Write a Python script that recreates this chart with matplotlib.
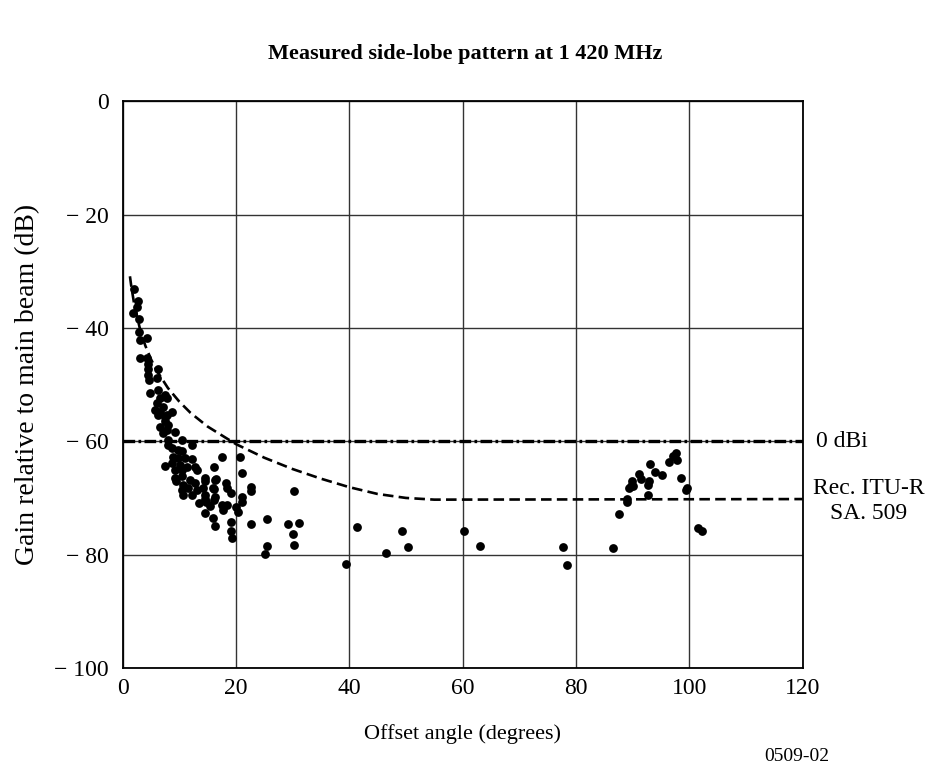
# Measured side-lobe pattern at 1 420 MHz, with the Rec. ITU-R SA.509 reference curve.
import matplotlib
matplotlib.use("Agg")
import matplotlib.pyplot as plt

# measured points: offset angle (degrees) and gain relative to main beam (dB)
meas_angle = [
    2.0, 2.8, 2.5, 1.9, 2.9, 2.9, 3.1, 4.3, 3.1, 4.3, 4.4, 4.5, 4.5, 4.6, 6.2, 6.0,
    4.8, 6.3, 6.6, 7.5, 7.8, 6.0, 7.2, 6.6, 5.7, 8.7, 7.5, 6.3, 7.8, 6.6, 8.1, 7.5,
    7.8, 7.2, 9.2, 8.1, 10.4, 12.2, 8.1, 8.7, 9.8, 10.4, 8.9, 9.8, 11.0, 12.2,
    7.5, 8.7, 10.1, 11.3, 12.8, 13.1, 9.2, 10.4, 9.2, 10.4, 11.9, 14.5, 9.5, 10.7,
    12.8, 14.5, 16.3, 10.4, 11.6, 13.1, 14.2, 16.0, 14.5, 16.3, 10.7, 12.2, 13.4,
    14.8, 15.4, 14.5, 16.0, 16.3, 14.5, 16.1, 17.5, 18.5, 17.8, 20.1, 19.1, 19.2,
    19.3, 17.5, 20.7, 16.1, 21.1, 16.4, 18.2, 16.1, 18.4, 19.1, 22.7, 22.7, 30.2,
    21.1, 21.1, 20.3, 22.6, 25.4, 29.2, 31.2, 30.1, 25.5, 30.2, 25.2,
    41.4, 39.5, 46.4, 49.3, 50.4, 60.2, 63.0, 77.8, 78.4,
    86.5, 87.6, 89.0, 89.0, 89.4, 89.7, 89.9, 90.0, 91.1, 91.4, 92.7, 92.9, 92.8,
    93.1, 94.0, 95.2, 96.4, 97.2, 97.6, 97.9, 98.5, 99.6, 99.4, 101.6, 102.2,
]
meas_gain = [
    -33.2, -35.2, -36.3, -37.3, -38.5, -40.7, -42.1, -41.7, -45.4, -45.4, -46.3,
    -47.2, -48.4, -49.2, -47.3, -48.9, -51.5, -51.0, -52.3, -51.8, -52.4, -53.3,
    -53.9, -54.8, -54.5, -54.8, -55.7, -55.4, -55.4, -57.4, -57.1, -56.5, -58.0,
    -58.6, -58.4, -59.8, -59.7, -60.7, -60.7, -61.2, -61.5, -61.8, -62.7, -63.0,
    -63.0, -63.2, -64.4, -63.9, -64.2, -64.6, -64.6, -65.1, -65.1, -65.1, -66.5,
    -66.2, -66.8, -66.5, -67.1, -67.7, -67.4, -67.1, -66.8, -68.6, -68.3, -68.6,
    -68.3, -68.3, -69.5, -69.8, -69.5, -69.5, -70.9, -70.7, -71.5, -72.6, -73.6,
    -74.9, -70.1, -70.4, -71.2, -71.2, -72.1, -71.6, -74.3, -75.8, -77.1, -62.7,
    -62.8, -64.6, -65.6, -66.6, -67.3, -68.4, -68.3, -69.1, -68.1, -68.8, -68.7,
    -69.9, -70.7, -72.4, -74.6, -73.8, -74.6, -74.4, -76.4, -78.5, -78.3, -79.9,
    -75.1, -81.7, -79.8, -75.9, -78.6, -75.9, -78.5, -78.6, -81.8,
    -78.8, -72.9, -70.1, -70.7, -68.2, -67.9, -67.1, -67.9, -65.8, -66.7, -69.5,
    -67.0, -67.8, -64.1, -65.5, -65.9, -63.6, -62.6, -62.1, -63.3, -66.4, -68.2,
    -68.6, -75.3, -75.9,
]

# Rec. ITU-R SA.509 envelope
curve_angle = [1.3, 1.5, 2, 3, 4, 5, 6, 8, 10, 12, 15, 20, 25, 30, 35, 40, 45, 50, 55, 120]
curve_gain = [-30.9, -32.4, -35.5, -39.9, -43.1, -45.5, -47.5, -50.6, -53.0, -55.0,
              -57.4, -60.5, -62.9, -64.9, -66.6, -68.1, -69.3, -70.0, -70.3, -70.2]

zero_dbi = -60  # 0 dBi level relative to main beam

plt.rcParams["font.family"] = ["Liberation Serif", "DejaVu Serif"]
plt.rcParams["font.size"] = 16

fig = plt.figure(figsize=(9.3, 7.78), dpi=100)
ax = fig.add_axes([0.1318, 0.1414, 0.7312, 0.7286])

ax.grid(True, color="#333333", linewidth=1.0)
ax.set_axisbelow(True)

ax.plot(curve_angle, curve_gain, color="black", linewidth=1.9, dashes=(4, 2))
ax.axhline(zero_dbi, color="black", linewidth=2.4, dashes=(3.5, 1, 0.8, 1))
ax.scatter(meas_angle, meas_gain, s=40, color="black", zorder=3, linewidths=0)

ax.set_xlim(0, 120)
ax.set_ylim(-100, 0)
ax.set_xticks(range(0, 121, 20))
ax.set_yticks(range(-100, 1, 20))
ax.set_yticklabels(["\u2212 100", "\u2212 80", "\u2212 60", "\u2212 40", "\u2212 20", "0"])
ax.tick_params(length=0, labelsize=17)
ax.tick_params(axis="y", pad=10)
ax.tick_params(axis="x", pad=7)
for s in ax.spines.values():
    s.set_linewidth(1.3)

ax.set_xlabel("Offset angle (degrees)", fontsize=16, labelpad=18)
ax.set_ylabel("Gain relative to main beam (dB)", fontsize=20, labelpad=10)

fig.text(0.5, 0.931, "Measured side-lobe pattern at 1 420 MHz", ha="center",
         va="center", fontsize=16, fontweight="bold")
ax.text(1.02, 0.40, "0 dBi", transform=ax.transAxes, ha="left", va="center", fontsize=17)
ax.text(1.097, 0.295, "Rec. ITU-R\nSA. 509", transform=ax.transAxes, ha="center",
        va="center", fontsize=17, linespacing=1.25)
fig.text(0.857, 0.017, "0509-02", ha="center", va="bottom", fontsize=14)

fig.savefig("out.png", dpi=100)
